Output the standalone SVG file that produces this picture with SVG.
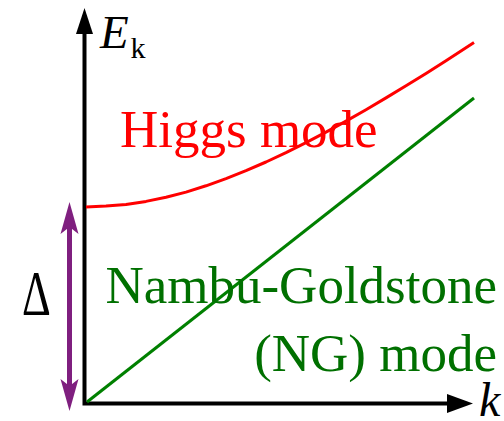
<svg xmlns="http://www.w3.org/2000/svg" width="504" height="421" viewBox="0 0 504 421">
<style>
text{font-family:'Liberation Serif','Times New Roman',Times,serif}
.ax{fill:none;stroke:#000;stroke-width:4}
</style>
<rect width="504" height="421" fill="#fff"/>
<g id="connectors">
<polyline class="ax" points="84.5,30 84.5,403.5 450,403.5" stroke-linejoin="miter"/>
<polygon points="84.5,8 93,34 76,34" fill="#000"/>
<polygon points="473,403.5 447,394 447,413" fill="#000"/>
<line x1="69.5" y1="225" x2="69.5" y2="388" stroke="#7f1f7f" stroke-width="5"/>
<path d="M69.5,202 L78.5,234 L69.5,227 L60.5,234 Z" fill="#7f1f7f"/>
<path d="M69.5,411 L78.5,379 L69.5,386 L60.5,379 Z" fill="#7f1f7f"/>
</g>
<g id="ng-mode">
<line x1="87" y1="402" x2="474" y2="98" stroke="#008000" stroke-width="3"/>
<text font-family="Liberation Serif, serif" x="497" y="303" font-size="53" fill="#007000" text-anchor="end">Nambu-Goldstone</text>
<text font-family="Liberation Serif, serif" x="497" y="371" font-size="53" fill="#007000" text-anchor="end">(NG) mode</text>
</g>
<g id="higgs-mode">
<polyline points="86,207 106,206.1 126,204.5 146,201.4 166,197.3 186,192.1 206,185.8 226,178.6 246,170.7 266,162.0 286,152.6 306,142.6 326,132.1 346,121.1 366,109.7 386,97.9 406,85.8 426,73.4 446,60.7 474,42.6" fill="none" stroke="#f00" stroke-width="3" stroke-linejoin="round"/>
<text font-family="Liberation Serif, serif" x="120" y="147" font-size="53" fill="#f00">Higgs mode</text>
</g>
<g id="labels">
<text font-family="Liberation Serif, serif" x="100" y="48" font-size="47" font-style="italic">E</text>
<text font-family="Liberation Serif, serif" x="130.5" y="58" font-size="30">k</text>
<text font-family="Liberation Serif, serif" x="479" y="416" font-size="48" font-style="italic">k</text>
<text font-family="Liberation Serif, serif" transform="translate(22,315) scale(0.7,1)" x="0" y="0" font-size="64">Δ</text>
</g>
</svg>
